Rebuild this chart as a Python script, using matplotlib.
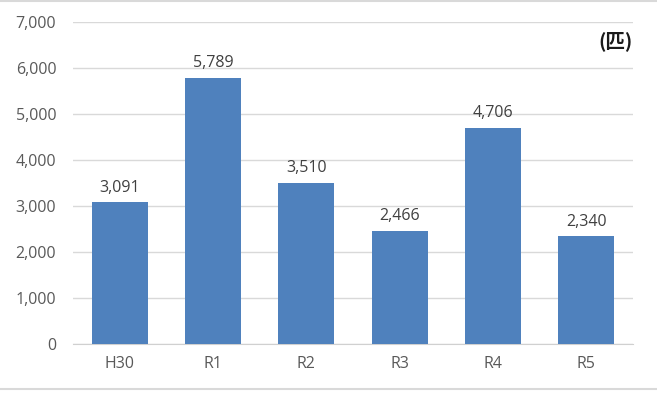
import matplotlib.pyplot as plt
from matplotlib.lines import Line2D

plt.rcParams['font.family'] = ['Noto Sans CJK JP', 'DejaVu Sans']

# data
years = ["H30", "R1", "R2", "R3", "R4", "R5"]
counts = [3091, 5789, 3510, 2466, 4706, 2340]
yticks = [0, 1000, 2000, 3000, 4000, 5000, 6000, 7000]

fig = plt.figure(figsize=(6.57, 3.93), dpi=100)
ax = fig.add_axes([0.111, 0.1247, 0.8525, 0.8193])

x = range(len(years))
ax.bar(x, counts, width=0.6, color="#4F81BD", zorder=3)
for xi, v in zip(x, counts):
    ax.annotate(f"{v:,}", (xi, v), xytext=(0, 4.5), textcoords="offset points",
                ha="center", va="bottom", fontsize=11.5, color="#404040",
                family=['Open Sans', 'DejaVu Sans'])

ax.set_xlim(-0.5, len(years) - 0.5)
ax.set_ylim(0, 7000)
ax.set_yticks(yticks)
ax.set_yticklabels([f"{t:,}" for t in yticks])
ax.set_xticks(list(x))
ax.set_xticklabels(years)
ax.grid(axis="y", color="#d9d9d9", linewidth=1, zorder=0)
for s in ["top", "right", "left"]:
    ax.spines[s].set_visible(False)
ax.spines["bottom"].set_color("#d0d0d0")
ax.tick_params(length=0, labelsize=11.5, colors="#595959")
ax.tick_params(axis="y", pad=12)
ax.tick_params(axis="x", pad=9)
for lab in ax.get_xticklabels() + ax.get_yticklabels():
    lab.set_family(['Open Sans', 'DejaVu Sans'])

ax.text(1.0, 0.94, "(匹)", transform=ax.transAxes, ha="right", va="center",
        fontsize=14, fontweight="bold", color="#1a1a1a")

# chart frame lines at top and bottom
fig.add_artist(Line2D([0, 1], [0.998, 0.998], transform=fig.transFigure,
                      color="#d9d9d9", linewidth=1.5))
fig.add_artist(Line2D([0, 1], [0.01, 0.01], transform=fig.transFigure,
                      color="#d9d9d9", linewidth=1.5))

fig.savefig("out.png", dpi=100)
